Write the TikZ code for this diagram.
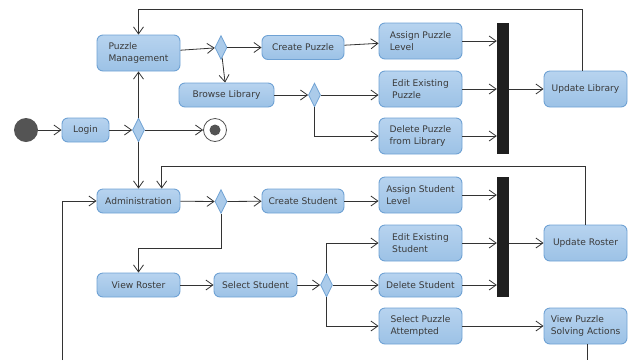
\documentclass[tikz,border=0pt]{standalone}
\usepackage{fontspec}
\setmainfont{DejaVu Sans}
\usetikzlibrary{arrows.meta,shapes.geometric,calc}
\definecolor{nodeborder}{HTML}{6FA2D4}
\definecolor{filltop}{HTML}{B7D3EF}
\definecolor{fillbot}{HTML}{9CC2E6}
\definecolor{txt}{HTML}{3A3A3A}
\definecolor{ln}{HTML}{333333}
\begin{document}
\begin{tikzpicture}[x=1pt,y=-1pt,
 act/.style={draw=nodeborder, line width=0.9pt, rounded corners=6pt, top color=filltop, bottom color=fillbot, text=txt, font=\fontsize{9.1}{12.5}\selectfont, align=left, inner sep=2pt, minimum width=83pt, minimum height=24pt},
 act2/.style={act, minimum height=36pt},
 dec/.style={diamond, draw=nodeborder, line width=0.8pt, fill=fillbot!85!white, minimum width=12pt, minimum height=24pt, inner sep=0pt},
 bar/.style={fill=black!88, minimum width=12pt, inner sep=0pt},
 flow/.style={draw=ln, line width=0.8pt, -{Straight Barb[length=7pt,width=10pt]}},
 line/.style={draw=ln, line width=0.8pt}]
\useasboundingbox (0,0) rectangle (629,360);
% top part
\node[act2] (pm) at (138.5,53) {Puzzle\\Management};
\node[dec] (d1) at (221,47.5) {};
\node[act, minimum width=82pt] (cp) at (303,47.5) {Create Puzzle};
\node[act, minimum width=95pt] (bl) at (226.5,95) {Browse Library};
\node[dec] (d2) at (314.5,95) {};
\node[circle, fill=black!67, minimum size=24pt, inner sep=0pt] (start) at (26,130) {};
\node[act, minimum width=47pt] (login) at (85.5,130) {Login};
\node[dec] (d3) at (138.5,130) {};
\node[circle, draw=black!67, line width=0.8pt, fill=white, minimum size=23pt, inner sep=0pt] (end) at (215,130) {};
\fill[black!67] (end.center) circle (5.5pt);
\node[act2] (apl) at (420.5,41) {Assign Puzzle\\Level};
\node[act2] (ep) at (420.5,89) {Edit Existing\\Puzzle};
\node[act2] (dp) at (420.5,136) {Delete Puzzle\\from Library};
\node[bar, minimum height=131pt] (bar1) at (503,88.5) {};
\node[act2] (ul) at (585.5,89) {Update Library};
% bottom part
\node[act] (adm) at (138.5,201) {Administration};
\node[dec] (d4) at (221,201.5) {};
\node[act, minimum width=82pt] (cs) at (303,201) {Create Student};
\node[act2] (asl) at (420.5,195) {Assign Student\\Level};
\node[act2] (es) at (420.5,243) {Edit Existing\\Student};
\node[act] (ds) at (420.5,285) {Delete Student};
\node[act2] (spa) at (420.5,326) {Select Puzzle\\Attempted};
\node[bar, minimum height=120pt] (bar2) at (503,237) {};
\node[act2] (ur) at (585.5,243) {Update Roster};
\node[act2] (vp) at (585.5,326) {View Puzzle\\Solving Actions};
\node[act] (vr) at (138.5,285) {View Roster};
\node[act] (ss) at (255.5,285) {Select Student};
\node[dec] (d5) at (326.5,285) {};
\coordinate (topy) at (0,9);
\coordinate (c2) at (161.7,166);
\coordinate (c4) at (0,248);
\coordinate (bl0) at (62,360);
% edges top
\draw[flow] (start) -- (login);
\draw[flow] (login) -- (d3);
\draw[flow] (d3) -- (end);
\draw[flow] (d3) -- (pm);
\draw[flow] (d3) -- (adm);
\draw[flow] (pm) -- (d1);
\draw[flow] (d1) -- (cp);
\draw[flow] (d1) -- (bl);
\draw[flow] (cp) -- (apl);
\draw[flow] (bl) -- (d2);
\draw[flow] (d2.east) -- (d2 -| ep.west);
\draw[flow] (d2.south) |- (dp.west);
\draw[flow] (apl.east) -- (apl.east -| bar1.west);
\draw[flow] (ep.east) -- (ep.east -| bar1.west);
\draw[flow] (dp.east) -- (dp.east -| bar1.west);
\draw[flow] (ul.west -| bar1.east) -- (ul.west);
\draw[flow] ([xshift=-3pt]ul.north) -- ([xshift=-3pt]ul.north |- topy) -| (pm.north);
% edges bottom
\draw[flow] (adm) -- (d4);
\draw[flow] (d4) -- (cs);
\draw[flow] (cs) -- (asl.west |- cs);
\draw[flow] (d4.south) -- (d4 |- c4) -| (vr.north);
\draw[flow] (vr) -- (ss);
\draw[flow] (ss) -- (d5);
\draw[flow] (d5) -- (ds);
\draw[flow] (d5.north) |- (es.west);
\draw[flow] (d5.south) |- (spa.west);
\draw[flow] (asl.east) -- (asl.east -| bar2.west);
\draw[flow] (es.east) -- (es.east -| bar2.west);
\draw[flow] (ds.east) -- (ds.east -| bar2.west);
\draw[flow] (ur.west -| bar2.east) -- (ur.west);
\draw[flow] (ur.north) |- (c2) -- (c2 |- adm.north);
\draw[flow] (spa) -- (vp);
\draw[line] ([xshift=1.5pt]vp.south) -- ([xshift=1.5pt]vp.south |- bl0);
\draw[flow] (bl0) |- (adm.west);
\end{tikzpicture}
\end{document}
